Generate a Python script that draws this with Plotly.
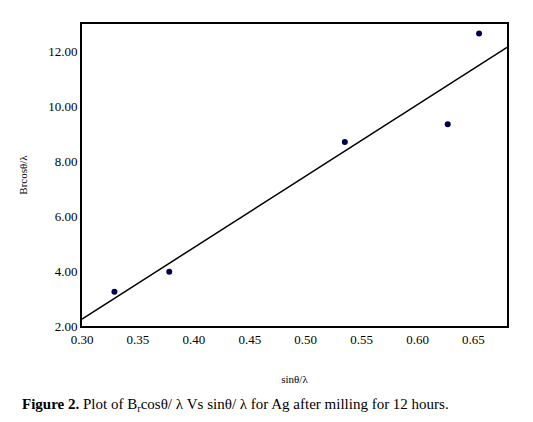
import plotly.graph_objects as go

x_vals = [0.329, 0.378, 0.535, 0.627, 0.655]
y_vals = [3.25, 3.98, 8.70, 9.35, 12.65]
fit_x = [0.30, 0.68]
fit_y = [2.25, 12.15]
x_ticks = [0.30, 0.35, 0.40, 0.45, 0.50, 0.55, 0.60, 0.65]
y_ticks = [2, 4, 6, 8, 10, 12]

font = "Liberation Serif"
fig = go.Figure()
fig.add_trace(go.Scatter(x=fit_x, y=fit_y, mode="lines", line=dict(color="black", width=1.5)))
fig.add_trace(go.Scatter(x=x_vals, y=y_vals, mode="markers", marker=dict(color="#000050", size=6)))
fig.update_layout(
    width=533, height=422, showlegend=False,
    plot_bgcolor="white", paper_bgcolor="white",
    margin=dict(l=74, r=34, t=16, b=104),
    font=dict(family=font, size=13, color="black"),
    xaxis=dict(range=[0.30, 0.68], tickvals=x_ticks, ticktext=[f"{v:.2f}" for v in x_ticks],
               showline=True, linecolor="black", linewidth=2, mirror=True, showgrid=False,
               zeroline=False, ticks="", title=dict(text="sinθ/λ", font=dict(size=11), standoff=30)),
    yaxis=dict(range=[2, 13], tickvals=y_ticks, ticktext=[f"{v:.2f}" for v in y_ticks],
               showline=True, linecolor="black", linewidth=2, mirror=True, showgrid=False,
               zeroline=False, ticks="", title=dict(text="Brcosθ/λ", font=dict(size=11), standoff=18)),
)
fig.add_annotation(xref="paper", yref="paper", x=-0.145, y=-0.26, xanchor="left", yanchor="middle",
                   showarrow=False, font=dict(size=15, family=font),
                   text="<b>Figure 2.</b> Plot of B<sub>r</sub>cosθ/ λ Vs sinθ/ λ for Ag after milling for 12 hours.")
fig.write_html("out.html")
